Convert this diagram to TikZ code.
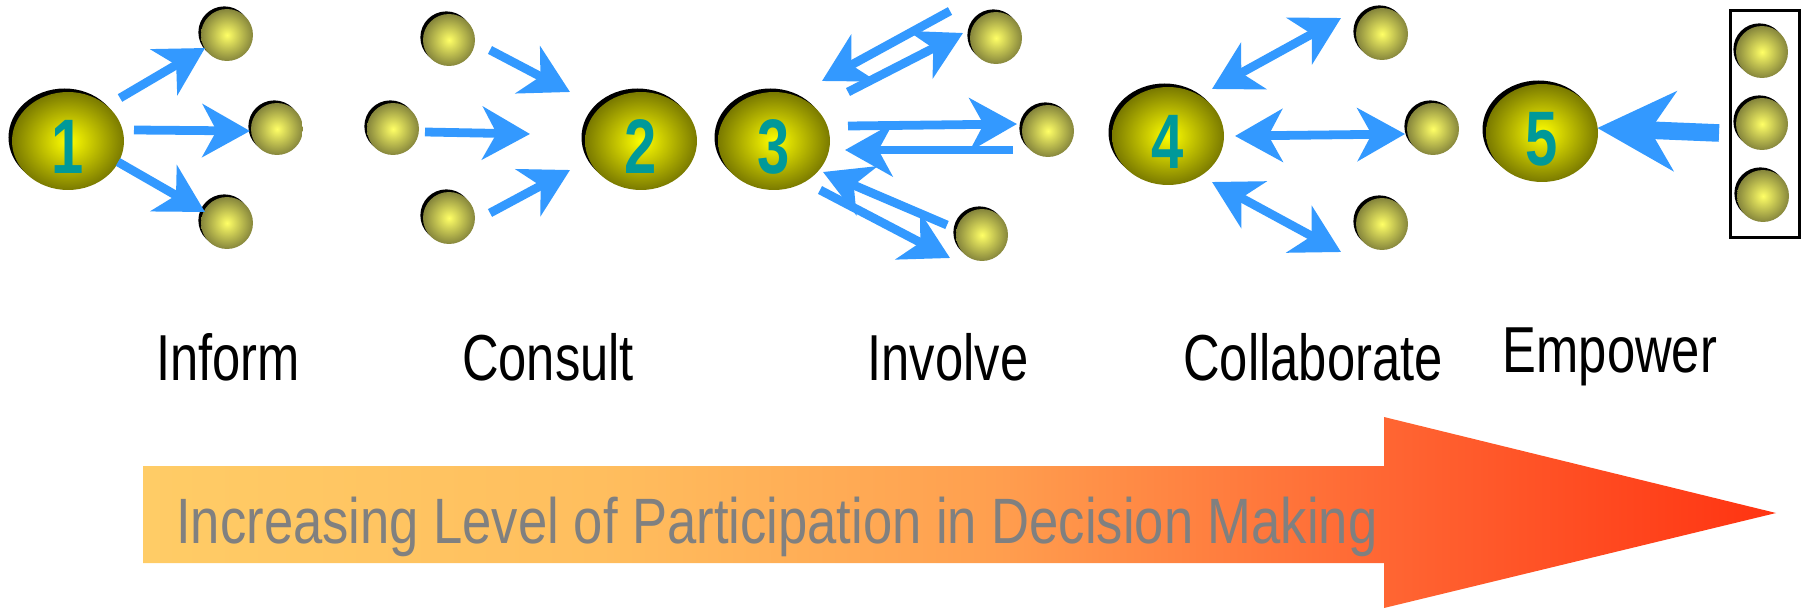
\documentclass[tikz,border=0pt]{standalone}
\usepackage{fontspec}
\setmainfont{Liberation Sans}
\newfontfamily\labelfont[FakeStretch=0.78]{Liberation Sans}
\newfontfamily\bannerfont[FakeStretch=0.82]{Liberation Sans}
\newfontfamily\digitfont[FakeStretch=0.75]{Liberation Sans}
\usetikzlibrary{arrows.meta,shapes.geometric,shadows}
\definecolor{arrblue}{HTML}{3399FF}
\definecolor{digitteal}{HTML}{009999}
\definecolor{goldcore}{HTML}{FFFF00}
\definecolor{goldedge}{HTML}{7A7A00}
\definecolor{ballcore}{HTML}{FFFF66}
\definecolor{balledge}{HTML}{86863C}
\definecolor{txtgray}{HTML}{808080}
\definecolor{pa}{HTML}{FFCC66}
\definecolor{pb}{HTML}{FFBE5E}
\definecolor{pc}{HTML}{FF9F4F}
\definecolor{pd}{HTML}{FF6633}
\definecolor{pe}{HTML}{FF3311}
\pgfdeclarehorizontalshading{partshade}{100bp}{color(0bp)=(pa); color(25bp)=(pa); color(39bp)=(pb); color(51bp)=(pc); color(63bp)=(pd); color(75bp)=(pe); color(100bp)=(pe)}
\tikzstyle{stage}=[ellipse, inner sep=0pt, minimum width=2.24cm, minimum height=1.96cm, inner color=goldcore, outer color=goldedge, general shadow={fill=black, shadow xshift=-2pt, shadow yshift=2pt}, text=digitteal, font=\digitfont\bfseries\fontsize{44}{44}\selectfont, text height=37pt, text depth=0pt]
\tikzstyle{ball}=[ellipse, inner sep=0pt, minimum width=1.04cm, minimum height=1.04cm, inner color=ballcore, outer color=balledge, general shadow={fill=black, shadow xshift=-1.5pt, shadow yshift=1.5pt}]
\tikzstyle{arr}=[color=arrblue, line width=5pt, -{Stealth[length=27pt,width=30pt,inset=8pt]}]
\tikzstyle{duo}=[color=arrblue, line width=5pt, {Stealth[length=27pt,width=30pt,inset=8pt]}-{Stealth[length=27pt,width=30pt,inset=8pt]}]
\tikzstyle{bigarr}=[color=arrblue, line width=10pt, -{Stealth[length=44pt,width=45pt,inset=14pt]}]
\tikzstyle{caption}=[anchor=base, inner sep=0pt, font=\labelfont\fontsize{37}{37}\selectfont]
\newcommand{\bigball}{\node[stage]}
\newcommand{\smallball}{\node[ball]}

\begin{document}
\begin{tikzpicture}[x=0.02cm, y=-0.02cm]
    \useasboundingbox (0,0) rectangle (1808,608);

    % inform
    \bigball (one) at (68,141) {1};
    \smallball (a1) at (227,35) {};
    \smallball (a2) at (277,129) {};
    \smallball (a3) at (227,223) {};
    \path[arr]
        ([shift={(52,-43)}]one.center) edge ([shift={(-22,13)}]a1.center)
        ([shift={(66,-11)}]one.center) edge ([shift={(-27,2)}]a2.center)
        ([shift={(50,21)}]one.center) edge ([shift={(-22,-11)}]a3.center)
    ;

    % consult
    \bigball (two) at (641,141) {2};
    \smallball (b1) at (449,40) {};
    \smallball (b2) at (393,129) {};
    \smallball (b3) at (449,218) {};
    \path[arr]
        ([shift={(41,10)}]b1.center) edge ([shift={(-71,-49)}]two.center)
        ([shift={(32,3)}]b2.center) edge ([shift={(-111,-7)}]two.center)
        ([shift={(41,-5)}]b3.center) edge ([shift={(-71,29)}]two.center)
    ;

    % involve
    \bigball (three) at (774,141) {3};
    \smallball (c1) at (996,38) {};
    \smallball (c2) at (1048,131) {};
    \smallball (c3) at (982,235) {};
    \path[arr]
        ([shift={(-46,-27)}]c1.center) edge ([shift={(48,-60)}]three.center)
        ([shift={(74,-49)}]three.center) edge ([shift={(-33,-5)}]c1.center)
        ([shift={(74,-15)}]three.center) edge ([shift={(-31,-7)}]c2.center)
        ([shift={(-35,19)}]c2.center) edge ([shift={(71,9)}]three.center)
        ([shift={(-35,-10)}]c3.center) edge ([shift={(49,31)}]three.center)
        ([shift={(46,49)}]three.center) edge ([shift={(-32,23)}]c3.center)
    ;

    % collaborate
    \bigball (four) at (1168,136) {4};
    \smallball (d1) at (1382,34) {};
    \smallball (d2) at (1433,129) {};
    \smallball (d3) at (1382,224) {};
    \path[duo]
        ([shift={(44,-47)}]four.center) edge ([shift={(-41,-16)}]d1.center)
        ([shift={(67,0)}]four.center) edge ([shift={(-28,5)}]d2.center)
        ([shift={(44,46)}]four.center) edge ([shift={(-41,28)}]d3.center)
    ;

    % empower
    \bigball (five) at (1542,133) {5};
    \node[draw, line width=1.7pt, inner sep=0pt, minimum width=1.38cm, minimum height=4.54cm] (box) at (1765,124) {};
    \smallball (e1) at (1762,52) {};
    \smallball (e2) at (1762,124) {};
    \smallball (e3) at (1763,196) {};
    \path[bigarr] ([shift={(-10,9)}]box.west) edge ([shift={(-1,-5)}]five.east);

    % captions
    \node[caption] (inform) at (228,380) {Inform};
    \node[caption] (consult) at (548,380) {Consult};
    \node[caption] (involve) at (948,380) {Involve};
    \node[caption] (collab) at (1313,380) {Collaborate};
    \node[caption] (empower) at (1610,372) {Empower};

    % participation arrow
    \shade[shading=partshade] (143,466) -- (1384,466) -- (1384,417) -- (1776,513)
        -- (1384,608) -- (1384,563) -- (143,563) -- cycle;
    \node[anchor=base west, inner sep=0pt, text=txtgray, font=\bannerfont\fontsize{36.5}{36.5}\selectfont] (levels) at (176,543) {Increasing Level of Participation in Decision Making};
\end{tikzpicture}
\end{document}
